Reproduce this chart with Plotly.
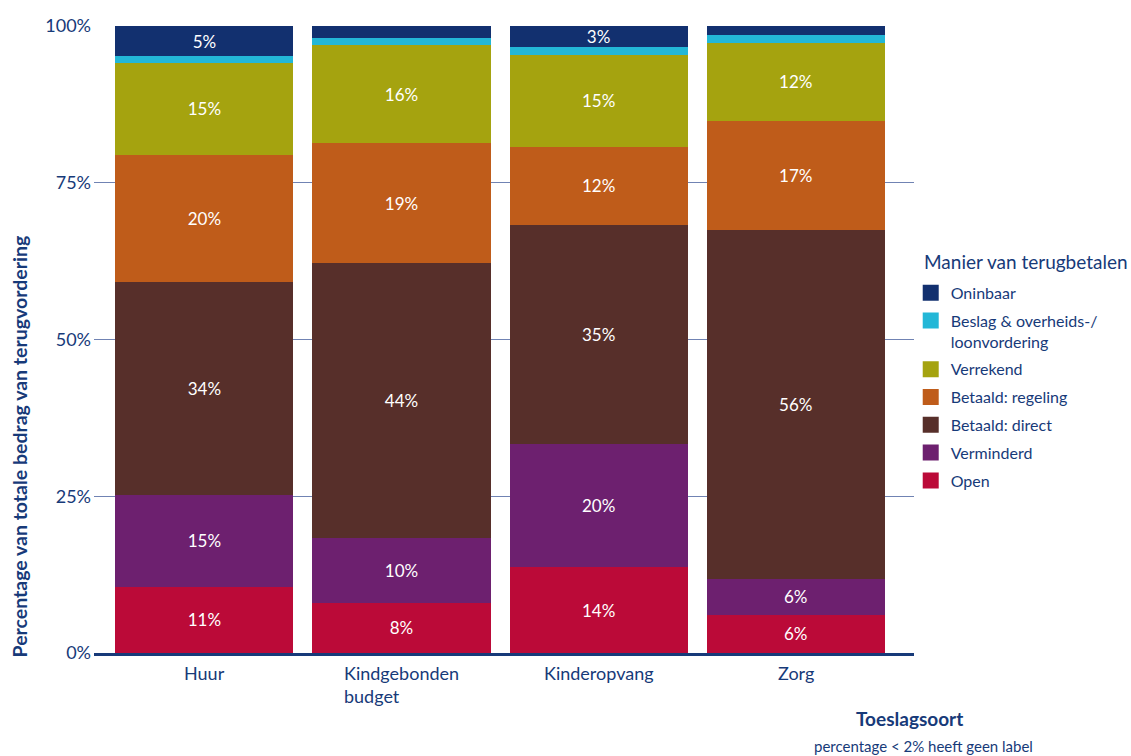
import plotly.graph_objects as go

# Toeslagsoorten (x-as)
categories = ["Huur", "Kindgebonden budget", "Kinderopvang", "Zorg"]
category_labels = ["Huur", "Kindgebonden<br>budget", "Kinderopvang", "Zorg"]

# Aandeel per manier van terugbetalen, in procenten van het totale bedrag
open_ = [10.6, 8.0, 13.7, 6.1]
verminderd = [14.6, 10.4, 19.7, 5.7]
betaald_direct = [33.9, 43.8, 34.9, 55.7]
betaald_regeling = [20.4, 19.1, 12.4, 17.4]
verrekend = [14.6, 15.6, 14.7, 12.4]
beslag = [1.1, 1.2, 1.2, 1.3]
oninbaar = [4.8, 1.9, 3.4, 1.4]

y_ticks = [0, 25, 50, 75, 100]

# (naam in legenda, waarden, kleur) van onder naar boven gestapeld
series = [
    ("Open", open_, "#bb0a38"),
    ("Verminderd", verminderd, "#6d206f"),
    ("Betaald: direct", betaald_direct, "#572f2a"),
    ("Betaald: regeling", betaald_regeling, "#bf5c1a"),
    ("Verrekend", verrekend, "#a5a30f"),
    ("Beslag & overheids-/<br>loonvordering", beslag, "#23b7d7"),
    ("Oninbaar", oninbaar, "#12306f"),
]

NAVY = "#173a79"
FONT = "Lato"

fig = go.Figure()

for name, values, color in series:
    labels = [f"{round(v)}%" if v >= 2 else "" for v in values]
    fig.add_trace(go.Bar(
        x=categories,
        y=values,
        name=name,
        marker=dict(color=color, line=dict(width=0)),
        text=labels,
        textposition="inside",
        insidetextanchor="middle",
        textangle=0,
        constraintext="none",
        textfont=dict(color="white", size=17, family=FONT),
        showlegend=False,
        hoverinfo="skip",
    ))

# Legenda-items met grotere vierkante symbolen, van boven naar beneden
for name, values, color in reversed(series):
    fig.add_trace(go.Scatter(
        x=[None], y=[None],
        mode="markers",
        name=name,
        legendgroup=name,
        marker=dict(symbol="square", size=17, color=color),
        showlegend=True,
    ))

# Categorielabels onder de staven, links uitgelijnd binnen hun blok
for cat, lab in zip(categories, category_labels):
    fig.add_annotation(
        x=cat, y=-0.011, xref="x", yref="paper",
        text=lab, showarrow=False, align="left",
        xanchor="center", yanchor="top",
        font=dict(size=18, color=NAVY, family=FONT),
    )

fig.add_annotation(
    x=-0.091, y=0.33, xref="paper", yref="paper",
    text="<b>Percentage van totale bedrag van terugvordering</b>",
    textangle=-90, showarrow=False,
    xanchor="center", yanchor="middle",
    font=dict(size=19.5, color=NAVY, family=FONT),
)
fig.add_annotation(
    x=0.994, y=-0.104, xref="paper", yref="paper",
    text="<b>Toeslagsoort</b>", showarrow=False,
    xanchor="center", yanchor="middle",
    font=dict(size=19, color=NAVY, family=FONT),
)
fig.add_annotation(
    x=1.012, y=-0.148, xref="paper", yref="paper",
    text="percentage < 2% heeft geen label", showarrow=False,
    xanchor="center", yanchor="middle",
    font=dict(size=15, color=NAVY, family=FONT),
)

# Titel van de legenda
fig.add_annotation(
    x=1.0098, y=0.625, xref="paper", yref="paper",
    text="Manier van terugbetalen", showarrow=False,
    xanchor="left", yanchor="middle",
    font=dict(size=19, color=NAVY, family=FONT),
)

fig.update_layout(
    width=1131, height=756,
    margin=dict(l=94, r=217, t=26, b=103),
    barmode="stack",
    bargap=0.096,
    plot_bgcolor="white",
    paper_bgcolor="white",
    font=dict(family=FONT, color=NAVY),
    legend=dict(
        x=0.996, xanchor="left", y=0.6014, yanchor="top",
        font=dict(size=16, color=NAVY, family=FONT),
        traceorder="grouped",
        tracegroupgap=4,
        valign="top",
        bgcolor="rgba(0,0,0,0)",
    ),
    xaxis=dict(
        range=[-0.56, 3.60],
        showticklabels=False,
        showgrid=False,
        showline=True, linecolor=NAVY, linewidth=3,
        ticks="",
        zeroline=False,
    ),
    yaxis=dict(
        range=[0, 100],
        tickvals=y_ticks,
        ticktext=[f"{t}%" for t in y_ticks],
        showgrid=True, gridcolor="#7083b3", gridwidth=1,
        zeroline=False,
        showline=False,
        ticks="",
        ticklabelstandoff=2,
        tickfont=dict(size=18, color=NAVY, family=FONT),
    ),
)

fig.write_html("out.html")
